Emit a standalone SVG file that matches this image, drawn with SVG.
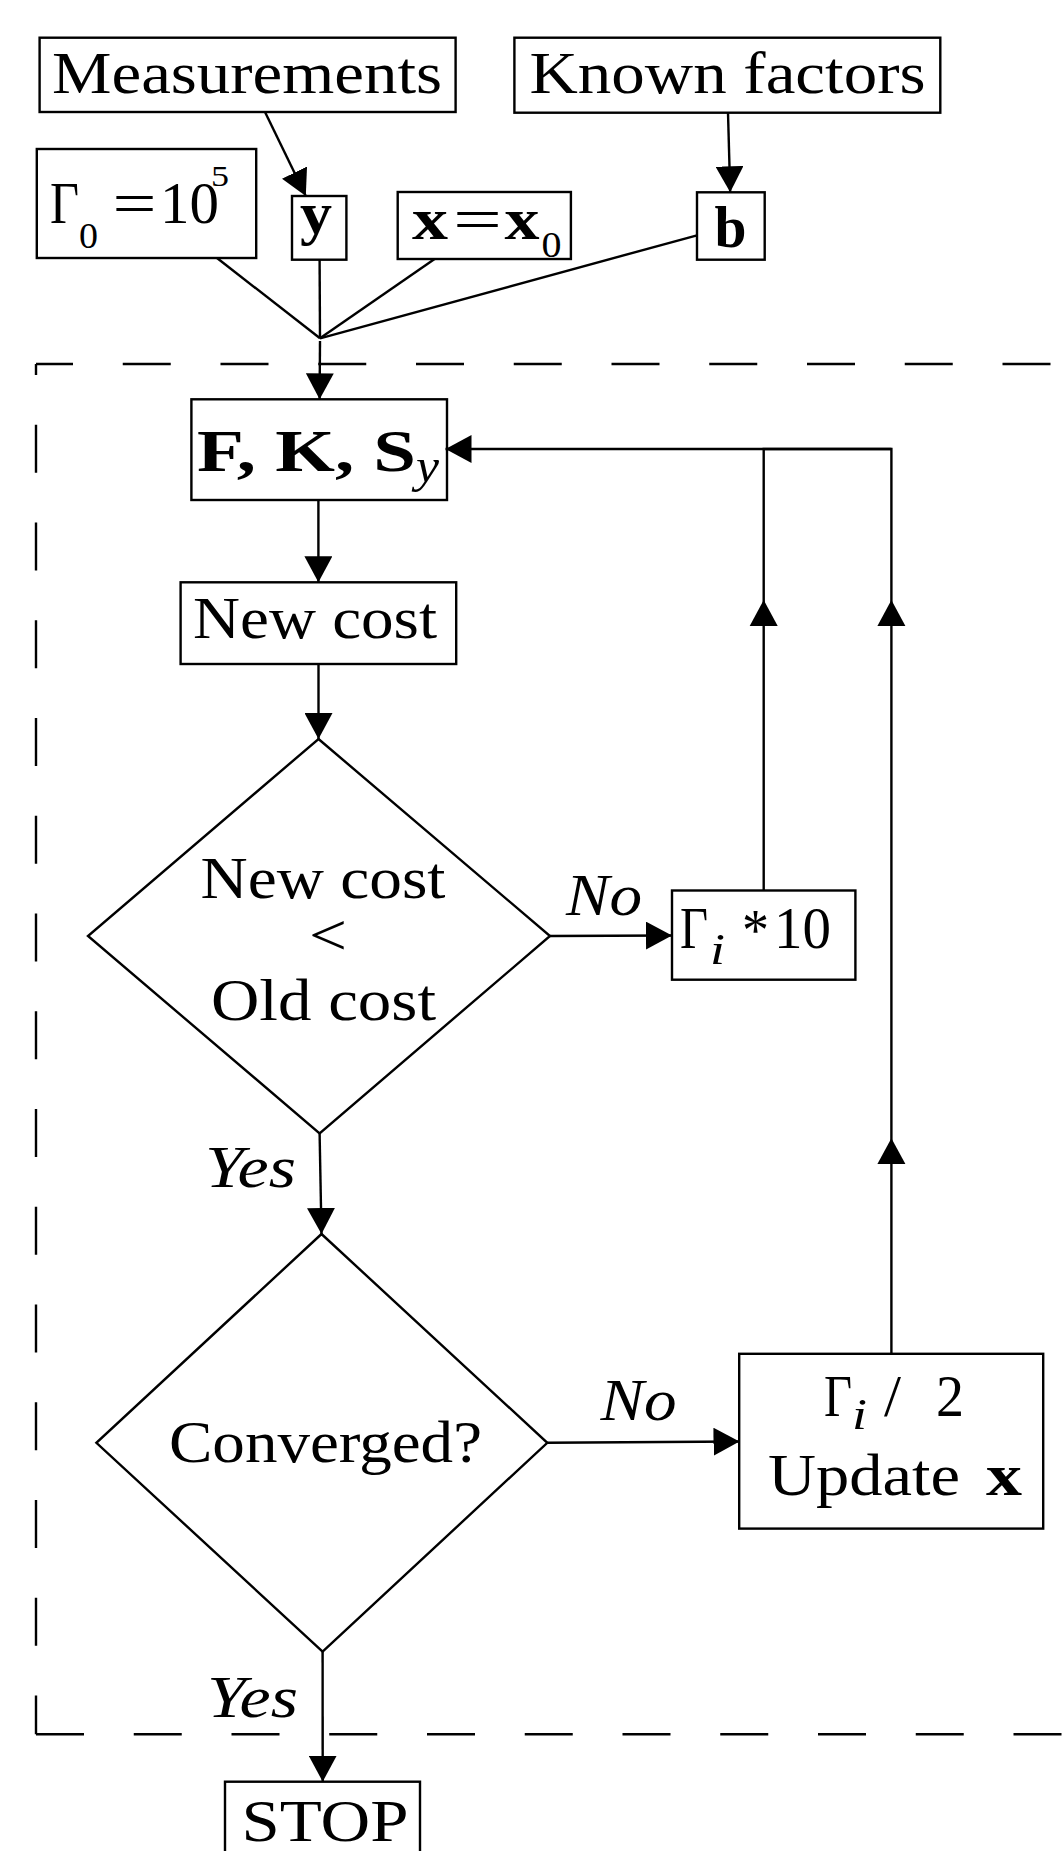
<svg xmlns="http://www.w3.org/2000/svg" width="1064" height="1851" viewBox="0 0 1064 1851">
<style>
.box{fill:none;stroke:#000;stroke-width:2.4}
.ln{fill:none;stroke:#000;stroke-width:2.4}
.arr{fill:none;stroke:#000;stroke-width:2.4;marker-end:url(#ah)}
.dash{fill:none;stroke:#000;stroke-width:2.4;stroke-dasharray:48 49.75}
.t{font-family:"Liberation Serif","DejaVu Serif",serif;font-size:59px;fill:#000}
.b{font-weight:bold}
.i{font-style:italic}
.s{font-size:36px}
</style>
<defs>
<marker id="ah" markerUnits="userSpaceOnUse" markerWidth="26" markerHeight="28" refX="26" refY="14" orient="auto">
<path d="M0,0 L26,14 L0,28 Z" fill="#000"/>
</marker>
</defs>
<rect width="1064" height="1851" fill="#fff"/>

<g id="frame">
<path class="dash" d="M36,1734.3 H1100"/>
<path class="dash" style="stroke-dashoffset:37" d="M36,364 V1734.3"/>
<path class="dash" style="stroke-dashoffset:11" d="M36,364 H1100"/>
</g>

<g id="connectors">
<line class="arr" x1="265" y1="112" x2="305.8" y2="196"/>
<line class="arr" x1="728" y1="112.7" x2="730.2" y2="192.3"/>
<line class="ln" x1="217" y1="258" x2="320" y2="338.3"/>
<line class="ln" x1="319.6" y1="260" x2="320" y2="338.3"/>
<line class="ln" x1="434.6" y1="259" x2="320" y2="338.3"/>
<line class="ln" x1="697" y1="235.3" x2="320" y2="338.3"/>
<line class="arr" x1="320" y1="341" x2="319.6" y2="399.3"/>
<line class="arr" x1="318.4" y1="500" x2="318.4" y2="582.3"/>
<line class="arr" x1="318.5" y1="664" x2="318.5" y2="739"/>
<line class="arr" x1="319.6" y1="1133.3" x2="321.5" y2="1234"/>
<line class="arr" x1="550" y1="936" x2="672" y2="935.5"/>
<line class="arr" x1="547.3" y1="1442.8" x2="739.5" y2="1441.5"/>
<line class="arr" x1="322.6" y1="1651.6" x2="322.7" y2="1781.7"/>
<polyline class="ln" points="763.7,890.5 763.7,449 891.4,449 891.4,1354"/>
<line class="arr" x1="891.4" y1="449" x2="445.5" y2="449"/>
<polygon points="763.7,600 749.7,626 777.7,626" fill="#000"/>
<polygon points="891.4,600 877.4,626 905.4,626" fill="#000"/>
<polygon points="891.4,1138.3 877.4,1164 905.4,1164" fill="#000"/>
<text class="t i" x="566" y="914.5" textLength="76" lengthAdjust="spacingAndGlyphs">No</text>
<text class="t i" x="600.5" y="1420" textLength="76" lengthAdjust="spacingAndGlyphs">No</text>
<text class="t i" x="205" y="1186.7" textLength="91" lengthAdjust="spacingAndGlyphs">Yes</text>
<text class="t i" x="207" y="1716.8" textLength="91" lengthAdjust="spacingAndGlyphs">Yes</text>
</g>

<g id="measurements">
<rect class="box" x="39.6" y="37.7" width="416" height="74.3"/>
<text class="t" x="52" y="93.3" textLength="390" lengthAdjust="spacingAndGlyphs">Measurements</text>
</g>
<g id="known">
<rect class="box" x="514.4" y="37.7" width="425.9" height="75"/>
<text class="t" x="529.5" y="93.3" textLength="396" lengthAdjust="spacingAndGlyphs">Known factors</text>
</g>
<g id="gamma0">
<rect class="box" x="36.8" y="149" width="219.4" height="109"/>
<text class="t" x="50" y="222.7" textLength="29" lengthAdjust="spacingAndGlyphs">Γ</text>
<text class="t s" x="79" y="248" textLength="19" lengthAdjust="spacingAndGlyphs">0</text>
<text class="t" x="112.5" y="222.7" textLength="44" lengthAdjust="spacingAndGlyphs">=</text>
<text class="t" x="160" y="222.7" textLength="59" lengthAdjust="spacingAndGlyphs">10</text>
<text class="t" x="211" y="186" style="font-size:30px" textLength="18" lengthAdjust="spacingAndGlyphs">5</text>
</g>
<g id="y">
<rect class="box" x="292" y="196" width="54.4" height="63.7"/>
<text class="t b" x="300" y="233.3" textLength="32" lengthAdjust="spacingAndGlyphs">y</text>
</g>
<g id="x0">
<rect class="box" x="397.7" y="192" width="173.2" height="67"/>
<text class="t b" x="412" y="239.3" textLength="36" lengthAdjust="spacingAndGlyphs">x</text>
<text class="t" x="453" y="239.3" textLength="49" lengthAdjust="spacingAndGlyphs">=</text>
<text class="t b" x="504.5" y="239.3" textLength="35" lengthAdjust="spacingAndGlyphs">x</text>
<text class="t s" x="541.5" y="256.7" textLength="20" lengthAdjust="spacingAndGlyphs">0</text>
</g>
<g id="b">
<rect class="box" x="697" y="192.3" width="67.7" height="67.4"/>
<text class="t b" x="714.5" y="246.7" textLength="32" lengthAdjust="spacingAndGlyphs">b</text>
</g>
<g id="fks">
<rect class="box" x="191.4" y="399.3" width="255.6" height="100.7"/>
<text class="t b" x="197" y="470.7" textLength="219" lengthAdjust="spacingAndGlyphs">F, K, S</text>
<text class="t i" x="416" y="482" style="font-size:48px" textLength="23" lengthAdjust="spacingAndGlyphs">y</text>
</g>
<g id="newcost">
<rect class="box" x="180.6" y="582.3" width="275.6" height="81.7"/>
<text class="t" x="193" y="637.7" textLength="244" lengthAdjust="spacingAndGlyphs">New cost</text>
</g>
<g id="compare">
<polygon class="box" points="318.5,739 550,936 319.6,1133.3 88,936"/>
<text class="t" x="200.5" y="898.3" textLength="245" lengthAdjust="spacingAndGlyphs">New cost</text>
<text class="t" x="309" y="955" textLength="38" lengthAdjust="spacingAndGlyphs">&lt;</text>
<text class="t" x="211" y="1020" textLength="225" lengthAdjust="spacingAndGlyphs">Old cost</text>
</g>
<g id="gammaup">
<rect class="box" x="672" y="890.5" width="183.4" height="89.2"/>
<text class="t" x="680" y="948.2" textLength="28" lengthAdjust="spacingAndGlyphs">Γ</text>
<text class="t i" x="710" y="964" style="font-size:44px" textLength="15" lengthAdjust="spacingAndGlyphs">i</text>
<text class="t" x="742" y="950" textLength="27" lengthAdjust="spacingAndGlyphs">*</text>
<text class="t" x="774" y="948.2" textLength="57" lengthAdjust="spacingAndGlyphs">10</text>
</g>
<g id="converged">
<polygon class="box" points="321.5,1234 547.3,1442.8 322.6,1651.6 96.4,1442.8"/>
<text class="t" x="169" y="1461.6" textLength="313" lengthAdjust="spacingAndGlyphs">Converged?</text>
</g>
<g id="gammadown">
<rect class="box" x="739.2" y="1353.8" width="304" height="174.8"/>
<text class="t" x="824" y="1416" textLength="28" lengthAdjust="spacingAndGlyphs">Γ</text>
<text class="t i" x="852" y="1429" style="font-size:44px" textLength="15" lengthAdjust="spacingAndGlyphs">i</text>
<text class="t" x="884" y="1416" textLength="17" lengthAdjust="spacingAndGlyphs">/</text>
<text class="t" x="936" y="1416" textLength="28" lengthAdjust="spacingAndGlyphs">2</text>
<text class="t" x="768" y="1495" textLength="192" lengthAdjust="spacingAndGlyphs">Update</text>
<text class="t b" x="986" y="1495" textLength="36" lengthAdjust="spacingAndGlyphs">x</text>
</g>
<g id="stop">
<rect class="box" x="225" y="1781.7" width="195" height="90"/>
<text class="t" x="241.5" y="1840.7" textLength="167" lengthAdjust="spacingAndGlyphs">STOP</text>
</g>
</svg>
